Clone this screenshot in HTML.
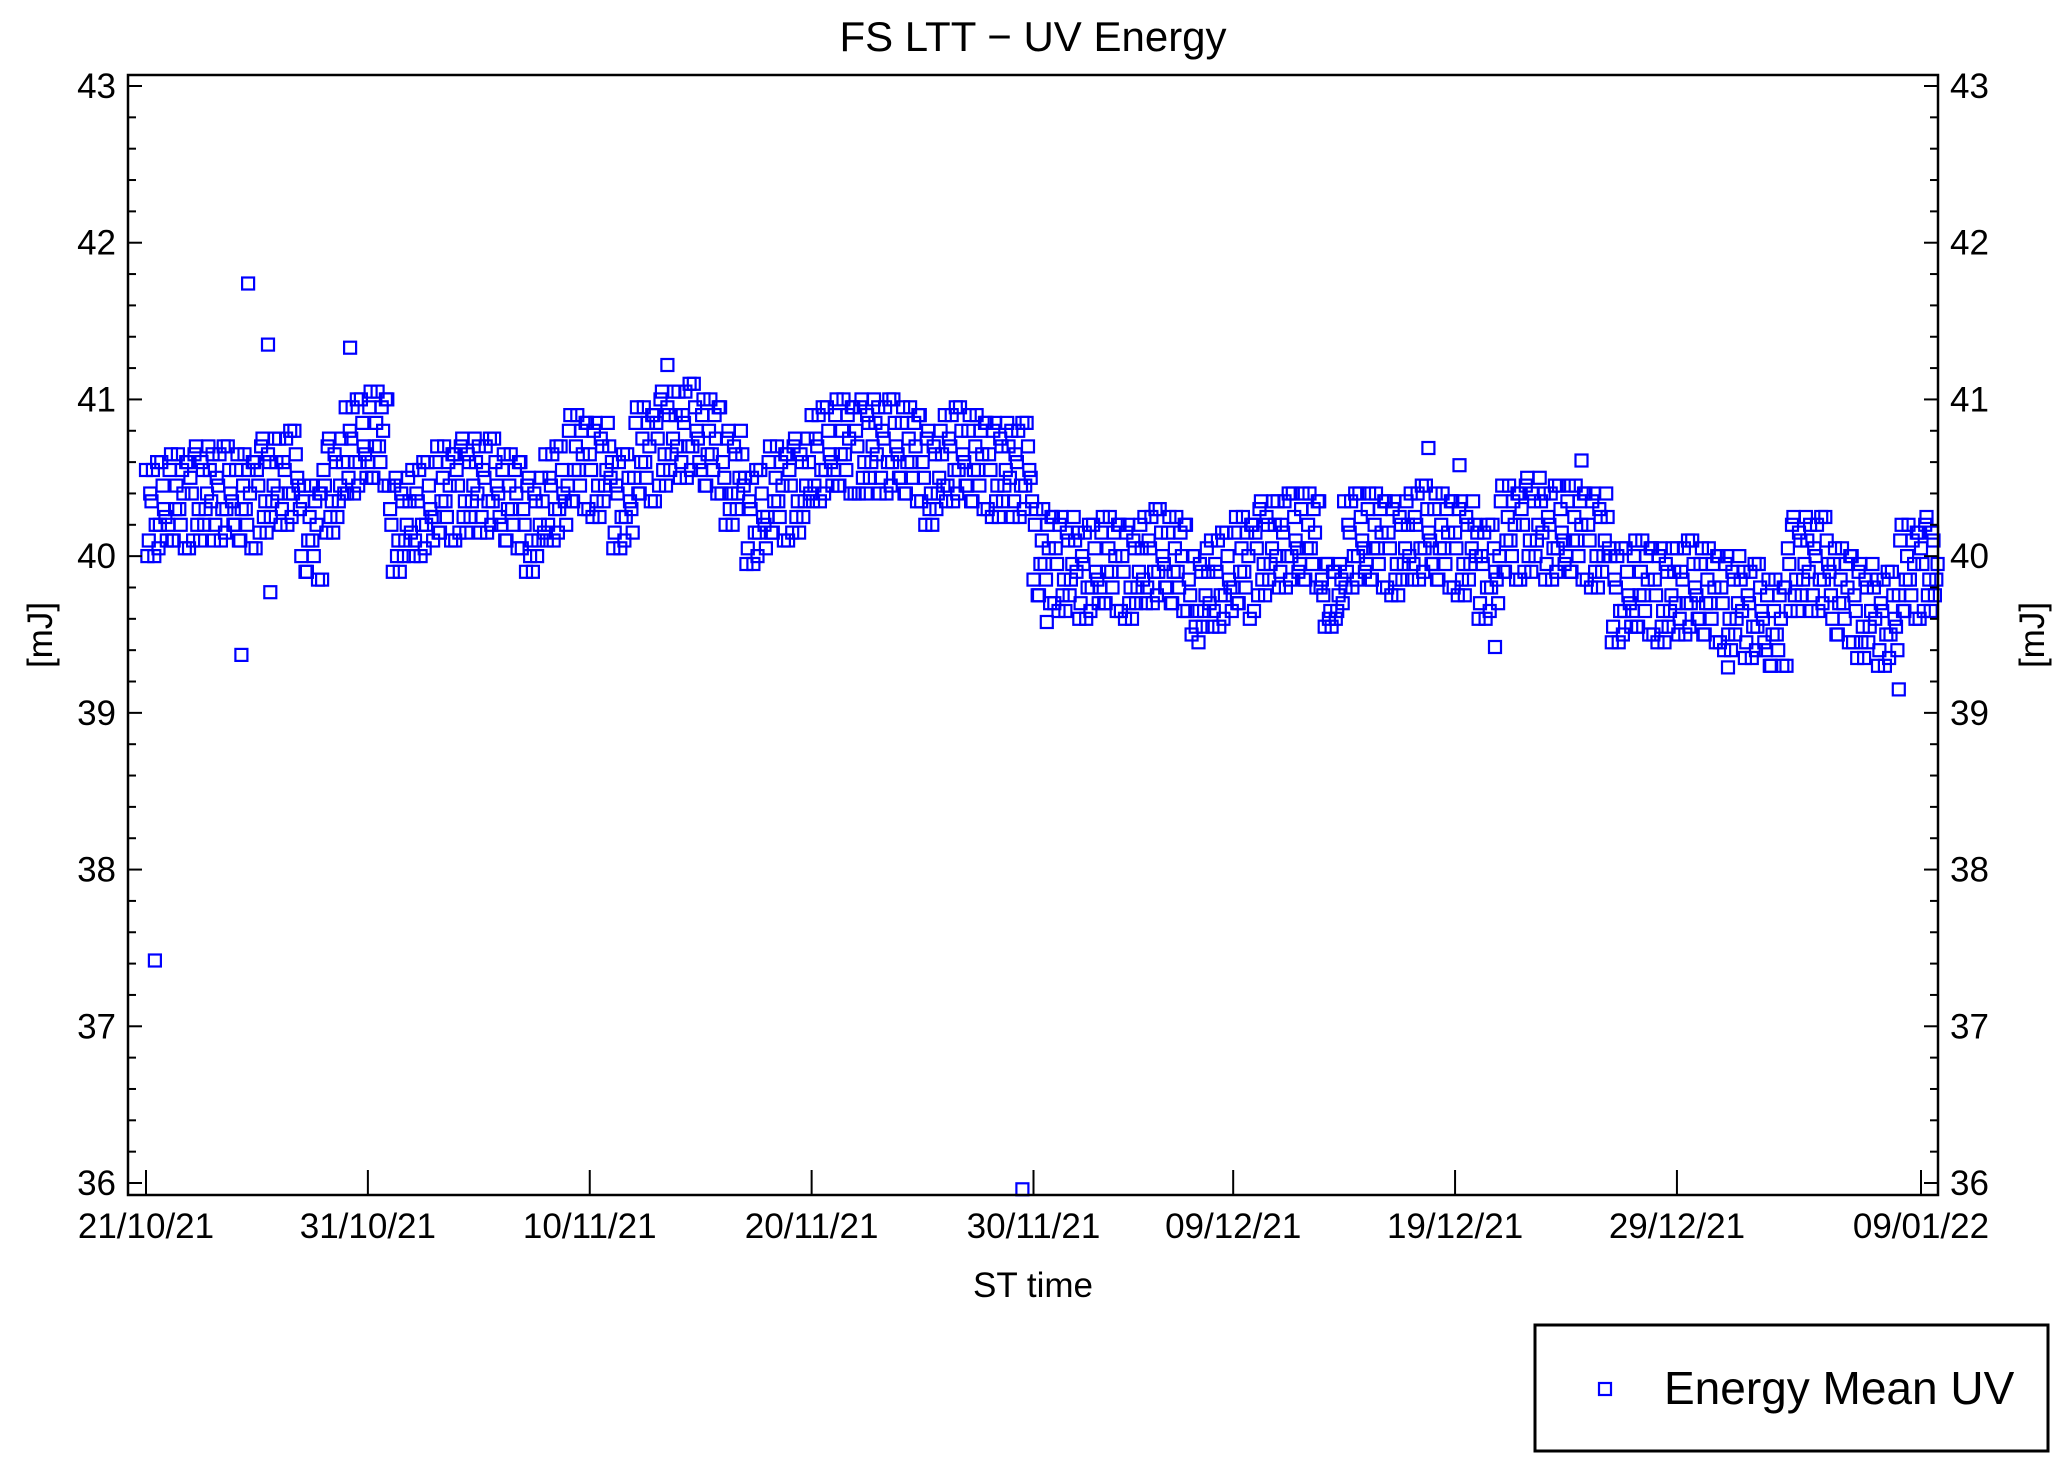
<!DOCTYPE html>
<html><head><meta charset="utf-8"><style>
html,body{margin:0;padding:0;background:#fff;}
svg{display:block;font-family:"Liberation Sans",Arial,sans-serif;}
</style></head><body>
<svg id="chart" width="2067" height="1476" viewBox="0 0 2067 1476" xmlns="http://www.w3.org/2000/svg">
<rect x="0" y="0" width="2067" height="1476" fill="#fff"/>
<text x="1033" y="51" font-size="42" text-anchor="middle">FS LTT − UV Energy</text>
<g id="marks"></g>
<g id="axes"></g>
<text transform="translate(52,635) rotate(-90)" font-size="35" text-anchor="middle">[mJ]</text>
<text transform="translate(2044,635) rotate(-90)" font-size="35" text-anchor="middle">[mJ]</text>
<text x="1033" y="1297" font-size="35" text-anchor="middle">ST time</text>
<g>
<rect x="1535" y="1325" width="513" height="126" fill="#fff" stroke="#000" stroke-width="3"/>
<rect x="1599" y="1383" width="12" height="12" fill="none" stroke="#0000ff" stroke-width="2.2"/>
<text x="1664" y="1404" font-size="46">Energy Mean UV</text>
</g>
</svg>
<script>
const dayRows = [
[40.55,40.10,40.35,40.00,40.60,40.20,40.45,40.25],
[40.20,40.65,40.10,40.45,40.30,40.55,40.05,40.60],
[40.50,40.10,40.70,40.30,40.60,40.20,40.40,40.55],
[40.65,40.20,40.45,40.10,40.70,40.30,40.55,40.35],
[40.20,40.65,40.10,40.45,40.30,40.55,40.05,40.60],
[40.55,40.15,40.75,40.35,40.65,40.25,40.45,40.60],
[40.75,40.30,40.55,40.20,40.80,40.40,40.65,40.45],
[40.00,40.45,39.90,40.25,40.10,40.35,39.85,40.40],
[40.55,40.15,40.75,40.35,40.65,40.25,40.45,40.60],
[40.95,40.50,40.75,40.40,41.00,40.60,40.85,40.65],
[40.60,41.05,40.50,40.85,40.70,40.95,40.45,41.00],
[40.30,39.90,40.50,40.10,40.40,40.00,40.20,40.35],
[40.55,40.10,40.35,40.00,40.60,40.20,40.45,40.25],
[40.25,40.70,40.15,40.50,40.35,40.60,40.10,40.65],
[40.55,40.15,40.75,40.35,40.65,40.25,40.45,40.60],
[40.70,40.25,40.50,40.15,40.75,40.35,40.60,40.40],
[40.20,40.65,40.10,40.45,40.30,40.55,40.05,40.60],
[40.30,39.90,40.50,40.10,40.40,40.00,40.20,40.35],
[40.65,40.20,40.45,40.10,40.70,40.30,40.55,40.35],
[40.45,40.90,40.35,40.70,40.55,40.80,40.30,40.85],
[40.65,40.25,40.85,40.45,40.75,40.35,40.55,40.70],
[40.60,40.15,40.40,40.05,40.65,40.25,40.50,40.30],
[40.50,40.95,40.40,40.75,40.60,40.85,40.35,40.90],
[40.85,40.45,41.05,40.65,40.95,40.55,40.75,40.90],
[41.05,40.60,40.85,40.50,41.10,40.70,40.95,40.75],
[40.55,41.00,40.45,40.80,40.65,40.90,40.40,40.95],
[40.60,40.20,40.80,40.40,40.70,40.30,40.50,40.65],
[40.50,40.05,40.30,39.95,40.55,40.15,40.40,40.20],
[40.25,40.70,40.15,40.50,40.35,40.60,40.10,40.65],
[40.55,40.15,40.75,40.35,40.65,40.25,40.45,40.60],
[40.90,40.45,40.70,40.35,40.95,40.55,40.80,40.60],
[40.55,41.00,40.45,40.80,40.65,40.90,40.40,40.95],
[40.80,40.40,41.00,40.60,40.90,40.50,40.70,40.85],
[40.95,40.50,40.75,40.40,41.00,40.60,40.85,40.65],
[40.50,40.95,40.40,40.75,40.60,40.85,40.35,40.90],
[40.60,40.20,40.80,40.40,40.70,40.30,40.50,40.65],
[40.90,40.45,40.70,40.35,40.95,40.55,40.80,40.60],
[40.45,40.90,40.35,40.70,40.55,40.80,40.30,40.85],
[40.65,40.25,40.85,40.45,40.75,40.35,40.55,40.70],
[40.80,40.35,40.60,40.25,40.85,40.45,40.70,40.50],
[39.85,40.30,39.75,40.10,39.95,40.20,39.70,40.25],
[40.05,39.65,40.25,39.85,40.15,39.75,39.95,40.10],
[40.15,39.70,39.95,39.60,40.20,39.80,40.05,39.85],
[39.80,40.25,39.70,40.05,39.90,40.15,39.65,40.20],
[40.00,39.60,40.20,39.80,40.10,39.70,39.90,40.05],
[40.25,39.80,40.05,39.70,40.30,39.90,40.15,39.95],
[39.80,40.25,39.70,40.05,39.90,40.15,39.65,40.20],
[39.85,39.50,40.00,39.65,39.95,39.55,39.75,39.90],
[40.10,39.65,39.90,39.55,40.15,39.75,40.00,39.80],
[39.80,40.25,39.70,40.05,39.90,40.15,39.60,40.20],
[40.15,39.75,40.35,39.95,40.25,39.85,40.05,40.20],
[40.35,39.90,40.15,39.80,40.40,40.00,40.25,40.05],
[39.95,40.40,39.85,40.20,40.05,40.30,39.80,40.35],
[39.85,39.55,39.95,39.65,39.90,39.60,39.75,39.85],
[40.35,39.90,40.15,39.80,40.40,40.00,40.25,40.05],
[39.95,40.40,39.85,40.20,40.05,40.30,39.80,40.35],
[40.15,39.75,40.35,39.95,40.25,39.85,40.05,40.20],
[40.40,39.95,40.20,39.85,40.45,40.05,40.30,40.10],
[39.95,40.40,39.85,40.20,40.05,40.30,39.80,40.35],
[40.15,39.75,40.35,39.95,40.25,39.85,40.05,40.20],
[40.15,39.70,39.95,39.60,40.20,39.80,40.05,39.85],
[40.00,40.45,39.90,40.25,40.10,40.35,39.85,40.40],
[40.30,39.90,40.50,40.10,40.40,40.00,40.20,40.35],
[40.40,39.95,40.20,39.85,40.45,40.05,40.30,40.10],
[40.00,40.45,39.90,40.25,40.10,40.35,39.85,40.40],
[40.20,39.80,40.40,40.00,40.30,39.90,40.10,40.25],
[40.00,39.55,39.80,39.45,40.05,39.65,39.90,39.70],
[39.65,40.10,39.55,39.90,39.75,40.00,39.50,40.05],
[39.85,39.45,40.05,39.65,39.95,39.55,39.75,39.90],
[40.05,39.60,39.85,39.50,40.10,39.70,39.95,39.75],
[39.60,40.05,39.50,39.85,39.70,39.95,39.45,40.00],
[39.80,39.40,40.00,39.60,39.90,39.50,39.70,39.85],
[39.90,39.45,39.70,39.35,39.95,39.55,39.80,39.60],
[39.40,39.85,39.30,39.65,39.50,39.75,39.30,39.80],
[40.05,39.65,40.25,39.85,40.15,39.75,39.95,40.10],
[40.20,39.75,40.00,39.65,40.25,39.85,40.10,39.90],
[39.60,40.05,39.50,39.85,39.70,39.95,39.45,40.00],
[39.75,39.35,39.95,39.55,39.85,39.45,39.65,39.80],
[39.85,39.40,39.65,39.30,39.90,39.50,39.75,39.55],
[39.75,40.20,39.65,40.00,39.85,40.10,39.60,40.15],
[40.05,39.65,40.25,39.85,40.15,39.75,39.95,40.10]
];
const dayRowsB = [
[40.00,40.40,40.55,40.20,40.05,40.60,40.30,40.10],
[40.55,40.10,40.30,40.65,40.20,40.40,40.60,40.05],
[40.40,40.65,40.20,40.10,40.55,40.30,40.70,40.35],
[40.10,40.50,40.65,40.30,40.15,40.70,40.40,40.20],
[40.55,40.10,40.30,40.65,40.20,40.40,40.60,40.05],
[40.45,40.70,40.25,40.15,40.60,40.35,40.75,40.40],
[40.20,40.60,40.75,40.40,40.25,40.80,40.50,40.30],
[40.35,39.90,40.10,40.45,40.00,40.20,40.40,39.85],
[40.45,40.70,40.25,40.15,40.60,40.35,40.75,40.40],
[40.40,40.80,40.95,40.60,40.45,41.00,40.70,40.50],
[40.95,40.50,40.70,41.05,40.60,40.80,41.00,40.45],
[40.20,40.45,40.00,39.90,40.35,40.10,40.50,40.15],
[40.00,40.40,40.55,40.20,40.05,40.60,40.30,40.10],
[40.60,40.15,40.35,40.70,40.25,40.45,40.65,40.10],
[40.45,40.70,40.25,40.15,40.60,40.35,40.75,40.40],
[40.15,40.55,40.70,40.35,40.20,40.75,40.45,40.25],
[40.55,40.10,40.30,40.65,40.20,40.40,40.60,40.05],
[40.20,40.45,40.00,39.90,40.35,40.10,40.50,40.15],
[40.10,40.50,40.65,40.30,40.15,40.70,40.40,40.20],
[40.80,40.35,40.55,40.90,40.45,40.65,40.85,40.30],
[40.55,40.80,40.35,40.25,40.70,40.45,40.85,40.50],
[40.05,40.45,40.60,40.25,40.10,40.65,40.35,40.15],
[40.85,40.40,40.60,40.95,40.50,40.70,40.90,40.35],
[40.75,41.00,40.55,40.45,40.90,40.65,41.05,40.70],
[40.50,40.90,41.05,40.70,40.55,41.10,40.80,40.60],
[40.90,40.45,40.65,41.00,40.55,40.75,40.95,40.40],
[40.50,40.75,40.30,40.20,40.65,40.40,40.80,40.45],
[39.95,40.35,40.50,40.15,40.00,40.55,40.25,40.05],
[40.60,40.15,40.35,40.70,40.25,40.45,40.65,40.10],
[40.45,40.70,40.25,40.15,40.60,40.35,40.75,40.40],
[40.35,40.75,40.90,40.55,40.40,40.95,40.65,40.45],
[40.90,40.45,40.65,41.00,40.55,40.75,40.95,40.40],
[40.70,40.95,40.50,40.40,40.85,40.60,41.00,40.65],
[40.40,40.80,40.95,40.60,40.45,41.00,40.70,40.50],
[40.85,40.40,40.60,40.95,40.50,40.70,40.90,40.35],
[40.50,40.75,40.30,40.20,40.65,40.40,40.80,40.45],
[40.35,40.75,40.90,40.55,40.40,40.95,40.65,40.45],
[40.80,40.35,40.55,40.90,40.45,40.65,40.85,40.30],
[40.55,40.80,40.35,40.25,40.70,40.45,40.85,40.50],
[40.25,40.65,40.80,40.45,40.30,40.85,40.55,40.35],
[40.20,39.75,39.95,40.30,39.85,40.05,40.25,39.70],
[39.95,40.20,39.75,39.65,40.10,39.85,40.25,39.90],
[39.60,40.00,40.15,39.80,39.65,40.20,39.90,39.70],
[40.15,39.70,39.90,40.25,39.80,40.00,40.20,39.65],
[39.90,40.15,39.70,39.60,40.05,39.80,40.20,39.85],
[39.70,40.10,40.25,39.90,39.75,40.30,40.00,39.80],
[40.15,39.70,39.90,40.25,39.80,40.00,40.20,39.65],
[39.75,40.00,39.55,39.45,39.90,39.65,40.05,39.70],
[39.55,39.95,40.10,39.75,39.60,40.15,39.85,39.65],
[40.15,39.70,39.90,40.25,39.80,40.00,40.20,39.65],
[40.05,40.30,39.85,39.75,40.20,39.95,40.35,40.00],
[39.80,40.20,40.35,40.00,39.85,40.40,40.10,39.90],
[40.30,39.85,40.05,40.40,39.95,40.15,40.35,39.80],
[39.75,39.95,39.60,39.55,39.90,39.65,39.95,39.70],
[39.80,40.20,40.35,40.00,39.85,40.40,40.10,39.90],
[40.30,39.85,40.05,40.40,39.95,40.15,40.35,39.80],
[40.05,40.30,39.85,39.75,40.20,39.95,40.35,40.00],
[39.85,40.25,40.40,40.05,39.90,40.45,40.15,39.95],
[40.30,39.85,40.05,40.40,39.95,40.15,40.35,39.80],
[40.05,40.30,39.85,39.75,40.20,39.95,40.35,40.00],
[39.60,40.00,40.15,39.80,39.65,40.20,39.90,39.70],
[40.35,39.90,40.10,40.45,40.00,40.20,40.40,39.85],
[40.20,40.45,40.00,39.90,40.35,40.10,40.50,40.15],
[39.85,40.25,40.40,40.05,39.90,40.45,40.15,39.95],
[40.35,39.90,40.10,40.45,40.00,40.20,40.40,39.85],
[40.10,40.35,39.90,39.80,40.25,40.00,40.40,40.05],
[39.45,39.85,40.00,39.65,39.50,40.05,39.75,39.55],
[40.00,39.55,39.75,40.10,39.65,39.85,40.05,39.50],
[39.75,40.00,39.55,39.45,39.90,39.65,40.05,39.70],
[39.50,39.90,40.05,39.70,39.55,40.10,39.80,39.60],
[39.95,39.50,39.70,40.05,39.60,39.80,40.00,39.45],
[39.70,39.95,39.50,39.40,39.85,39.60,40.00,39.65],
[39.35,39.75,39.90,39.55,39.40,39.95,39.65,39.45],
[39.75,39.30,39.50,39.85,39.40,39.60,39.80,39.30],
[39.95,40.20,39.75,39.65,40.10,39.85,40.25,39.90],
[39.65,40.05,40.20,39.85,39.70,40.25,39.95,39.75],
[39.95,39.50,39.70,40.05,39.60,39.80,40.00,39.45],
[39.65,39.90,39.45,39.35,39.80,39.55,39.95,39.60],
[39.30,39.70,39.85,39.50,39.35,39.90,39.60,39.40],
[40.10,39.65,39.85,40.20,39.75,39.95,40.15,39.60],
[39.95,40.20,39.75,39.65,40.10,39.85,40.25,39.90]
];
const outlierDays = [0.4,4.3,4.6,5.5,5.6,9.2,23.5,39.5,40.6,57.8,59.2,64.7,71.3,79.0,60.8];
const outlierValues = [37.42,39.37,41.74,41.35,39.77,41.33,41.22,35.96,39.58,40.69,40.58,40.61,39.29,39.15,39.42];
const xTickDays = [0,10,20,30,40,49,59,69,80];
const xTickLabels = ["21/10/21","31/10/21","10/11/21","20/11/21","30/11/21","09/12/21","19/12/21","29/12/21","09/01/22"];
const yTicks = [36,37,38,39,40,41,42,43];

const NS="http://www.w3.org/2000/svg";
const L=128,R=1938,T=75,B=1195;
const xS=d=>146+d*(1921-146)/80;
const yS=v=>1183-(v-36)*(1183-86)/7;
function el(tag,attrs,parent){const e=document.createElementNS(NS,tag);for(const k in attrs)e.setAttribute(k,attrs[k]);parent.appendChild(e);return e;}
const marks=document.getElementById('marks');
function addPt(d,v){
  const x=xS(d),y=yS(v);
  if(x<L||x>R||y<T||y>B)return;
  const r=el('rect',{x:(x-6).toFixed(1),y:(y-6).toFixed(1),width:12,height:12,fill:'none',stroke:'#0000ff','stroke-width':2.2},marks);
  
  
}
dayRows.forEach((row,i)=>row.forEach((v,k)=>addPt(i+k/row.length,v)));
dayRowsB.forEach((row,i)=>row.forEach((v,k)=>addPt(i+(k+0.5)/row.length,v)));
outlierDays.forEach((d,i)=>addPt(d,outlierValues[i]));

const ax=document.getElementById('axes');
const frame=el('rect',{x:L,y:T,width:R-L,height:B-T,fill:'none',stroke:'#000','stroke-width':2.5},ax);


for(let v=36;v<=43.001;v+=0.2){
  const y=yS(v);const major=Math.abs(v-Math.round(v))<0.01;const len=major?14:8;
  el('line',{x1:L,y1:y,x2:L+len,y2:y,stroke:'#000','stroke-width':2},ax);
  el('line',{x1:R,y1:y,x2:R-len,y2:y,stroke:'#000','stroke-width':2},ax);
}
yTicks.forEach(v=>{
  const y=yS(v);
  const t1=el('text',{x:116,y:y+12,'font-size':35,'text-anchor':'end'},ax);t1.textContent=v;
  
  
  const t2=el('text',{x:1950,y:y+12,'font-size':35,'text-anchor':'start'},ax);t2.textContent=v;
  
  
});
xTickDays.forEach((d,i)=>{
  const x=xS(d);
  el('line',{x1:x,y1:B,x2:x,y2:B-25,stroke:'#000','stroke-width':2},ax);
  const t=el('text',{x:x,y:1238,'font-size':35,'text-anchor':'middle'},ax);t.textContent=xTickLabels[i];
  
  
});
</script>
</body></html>
